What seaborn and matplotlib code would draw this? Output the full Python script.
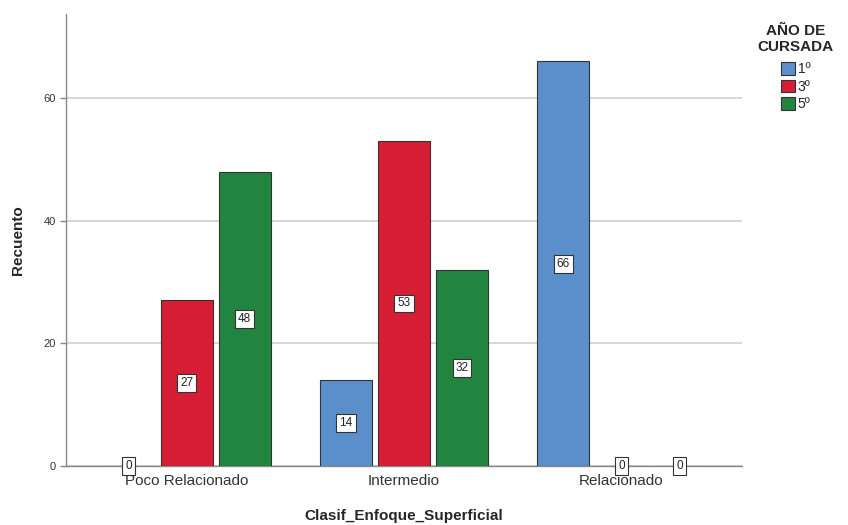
import pandas as pd
import numpy as np
import seaborn as sns
import matplotlib.pyplot as plt

categorias = ['Poco Relacionado', 'Intermedio', 'Relacionado']
anios = ['1º', '3º', '5º']
recuento_1 = [0, 14, 66]
recuento_3 = [27, 53, 0]
recuento_5 = [48, 32, 0]

colores = ['#5B8FCC', '#D81E35', '#21853F']

df = pd.DataFrame({
    'Clasif_Enfoque_Superficial': categorias * 3,
    'AÑO DE CURSADA': [anios[0]] * 3 + [anios[1]] * 3 + [anios[2]] * 3,
    'Recuento': recuento_1 + recuento_3 + recuento_5,
})

sns.set_style('white')
plt.rcParams['font.family'] = ['Liberation Sans', 'DejaVu Sans']

fig = plt.figure(figsize=(8.48, 5.25), dpi=100)
ax = fig.add_axes([66 / 848, (525 - 466) / 525, (742 - 66) / 848, (466 - 14) / 525])

sns.barplot(data=df, x='Clasif_Enfoque_Superficial', y='Recuento',
            hue='AÑO DE CURSADA', hue_order=anios, palette=colores,
            width=0.8, gap=0.1, edgecolor='#333333', linewidth=0.8,
            saturation=1, ax=ax, zorder=3)

for cont in ax.containers:
    ax.bar_label(cont, label_type='center', fontsize=8.5, color='#222222',
                 bbox=dict(boxstyle='square,pad=0.25', fc='white', ec='#333333', lw=0.8),
                 zorder=5)

ax.set_ylim(0, 73.7)
ax.set_xlim(-0.555, 2.555)
ax.set_yticks([0, 20, 40, 60])
ax.yaxis.grid(True, color='#d0d0d0', lw=1.2, zorder=0)
ax.set_axisbelow(True)
for s in ['top', 'right']:
    ax.spines[s].set_visible(False)
for s in ['left', 'bottom']:
    ax.spines[s].set_color('#888888')
    ax.spines[s].set_linewidth(1.0)
ax.tick_params(axis='y', labelsize=8, colors='#888888', labelcolor='#333333',
               length=4, width=1.0, left=True)
ax.tick_params(axis='x', labelsize=11, labelcolor='#333333', length=0, pad=6)
ax.set_ylabel('Recuento', fontsize=11, fontweight='bold', labelpad=13)
ax.set_xlabel('Clasif_Enfoque_Superficial', fontsize=11, fontweight='bold', labelpad=15)

ax.legend_.remove()
handles = [plt.Rectangle((0, 0), 1, 1, fc=c, ec='#333333', lw=0.8) for c in colores]
leg = fig.legend(handles, anios, title='AÑO DE\nCURSADA', loc='upper left',
                 bbox_to_anchor=(748 / 848, 1 - 14 / 525), frameon=False,
                 fontsize=10, handlelength=1.0, handleheight=1.0,
                 handletextpad=0.2, labelspacing=0.25, borderpad=0.2)
leg.get_title().set_fontweight('bold')
leg.get_title().set_fontsize(11)
leg.get_title().set_multialignment('center')
leg._legend_box.align = 'center'
leg._legend_box.sep = 6

fig.savefig('out.png', dpi=100)
